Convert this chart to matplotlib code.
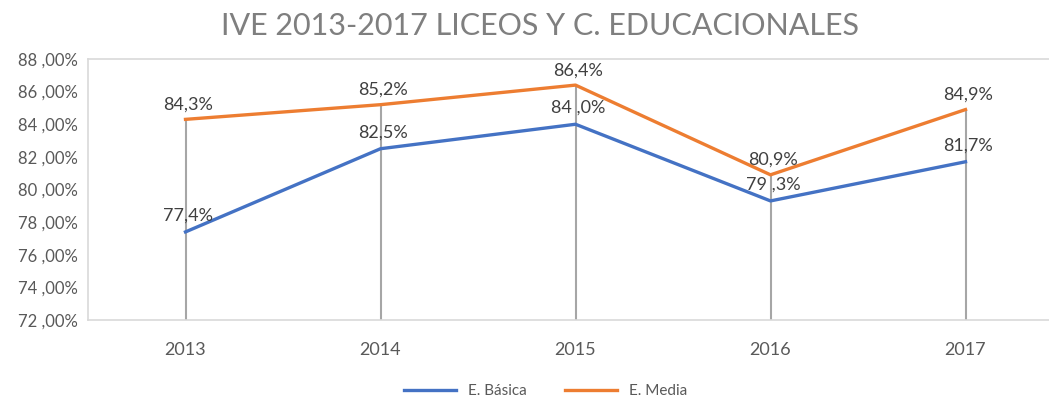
import matplotlib
matplotlib.use("Agg")
import matplotlib.pyplot as plt

plt.rcParams['font.family'] = ['Lato', 'DejaVu Sans']

years = ['2013', '2014', '2015', '2016', '2017']
basica = [77.4, 82.5, 84.0, 79.3, 81.7]
media = [84.3, 85.2, 86.4, 80.9, 84.9]
basica_labels = ['77,4%', '82,5%', '84 ,0%', '79 ,3%', '81,7%']
media_labels = ['84,3%', '85,2%', '86,4%', '80,9%', '84,9%']
yticks = [72, 74, 76, 78, 80, 82, 84, 86, 88]
ytick_labels = ['72 ,00%', '74 ,00%', '76 ,00%', '78 ,00%', '80 ,00%',
                '82 ,00%', '84 ,00%', '86 ,00%', '88 ,00%']

blue = '#4472C4'
orange = '#ED7D31'
txt = '#595959'
grid_c = '#d9d9d9'

fig = plt.figure(figsize=(10.49, 4.03), dpi=100)
ax = fig.add_axes([88/1049, 83/403, 975/1049, 261/403])

x = list(range(len(years)))

# drop lines from the top point down to the axis
for i in x:
    ax.vlines(i, 72, max(basica[i], media[i]), color='#a6a6a6', lw=1.5, zorder=1)

ax.plot(x, basica, color=blue, lw=2.4, label='E. Básica', zorder=3)
ax.plot(x, media, color=orange, lw=2.4, label='E. Media', zorder=3)

for i in x:
    ax.annotate(media_labels[i], (i, media[i]), xytext=(2, 5), textcoords='offset points',
                ha='center', va='bottom', fontsize=13, color='#404040')
    ax.annotate(basica_labels[i], (i, basica[i]), xytext=(2, 6), textcoords='offset points',
                ha='center', va='bottom', fontsize=13, color='#404040')

ax.set_xlim(-0.5, 4.5)
ax.set_ylim(72, 88)
ax.set_xticks(x)
ax.set_xticklabels(years, fontsize=13, color=txt)
ax.set_yticks(yticks)
ax.set_yticklabels(ytick_labels, fontsize=12, color=txt)
ax.tick_params(length=0, pad=7)
ax.tick_params(axis='x', pad=16)

for s in ax.spines.values():
    s.set_color(grid_c)
    s.set_linewidth(1.2)

fig.text(0.515, 0.935, 'IVE 2013-2017 LICEOS Y C. EDUCACIONALES', ha='center', va='center',
         fontsize=22, color='#7f7f7f')

fig.legend(loc='center', bbox_to_anchor=(0.52, 0.03), ncol=2, frameon=False,
           fontsize=11, handlelength=3.4, columnspacing=2.5,
           labelcolor=txt)

fig.savefig('out.png', dpi=100)
